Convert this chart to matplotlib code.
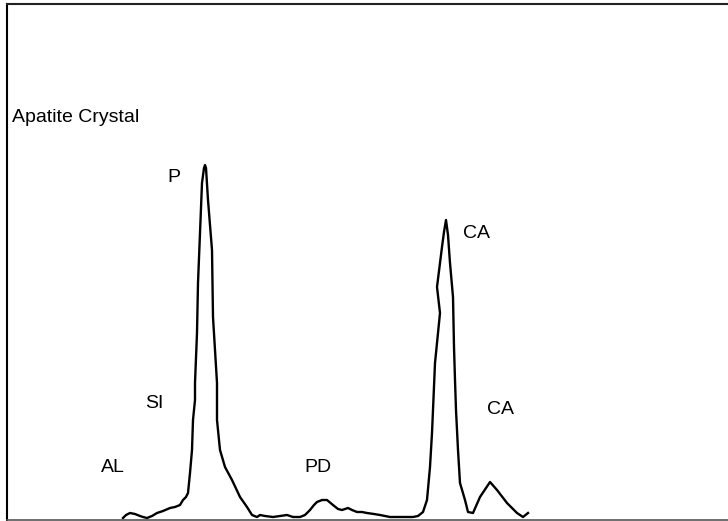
import matplotlib
matplotlib.use("Agg")
import matplotlib.pyplot as plt

# Spectrum trace (channel, counts)
channel = [123, 126, 130, 135, 140, 143, 147, 152, 157, 163, 170, 175, 180, 183, 186, 188,
           190, 192, 193, 195, 195, 197, 198, 200, 202, 204, 205, 206, 208, 210, 212, 213,
           215, 217, 217, 220, 225, 232, 240, 247, 252, 257, 260, 265, 273, 280, 287, 293,
           300, 305, 310, 314, 317, 322, 327, 333, 338, 342, 348, 352, 357, 362, 367, 374,
           380, 390, 400, 413, 418, 423, 427, 430, 432, 433, 435, 440, 437, 442, 444, 446,
           448, 450, 453, 454, 455, 456, 458, 460, 465, 468, 473, 480, 490, 497, 507, 517,
           523, 528]
pix_y = [518, 515, 513, 514, 516, 517, 518, 516, 513, 511, 508, 507, 505, 500, 497, 493,
         473, 450, 420, 400, 383, 333, 283, 233, 183, 168, 165, 168, 200, 225, 250, 317,
         350, 383, 420, 450, 467, 480, 497, 507, 515, 517, 515, 516, 517, 516, 515, 517,
         517, 515, 510, 505, 502, 500, 500, 505, 509, 510, 508, 510, 512, 512, 513, 514,
         515, 517, 517, 517, 516, 512, 500, 467, 433, 410, 363, 313, 287, 247, 232, 220,
         235, 263, 297, 347, 380, 410, 450, 483, 500, 512, 513, 497, 482, 490, 503, 513,
         517, 513]
H = 521
counts = [H - v for v in pix_y]

# Annotations (label, channel, counts)
labels = ["Apatite Crystal", "P", "CA", "SI", "CA", "AL", "PD"]
label_x = [12, 174, 477, 154, 500, 113, 318]
label_y = [H - 117, H - 178, H - 234, H - 404, H - 409, H - 467, H - 467]

plt.rcParams['font.family'] = ['Liberation Sans', 'DejaVu Sans']
fig = plt.figure(figsize=(7.28, 5.21), dpi=100)
ax = fig.add_axes([7 / 728, 1.5 / 521, 1 - 7 / 728, (517.5 - 1.5) / 521])
ax.set_xlim(7, 728)
ax.set_ylim(1.5, 517.5)

ax.plot(channel, counts, color='black', lw=1.7, solid_joinstyle='round')

for i, (t, x, y) in enumerate(zip(labels, label_x, label_y)):
    ha = 'left' if i == 0 else 'center'
    ax.text(x, y, t, ha=ha, va='center', fontsize=14, color='black')

ax.set_xticks([])
ax.set_yticks([])
ax.spines['right'].set_visible(False)
ax.spines['left'].set_linewidth(1.5)
ax.spines['top'].set_linewidth(1.5)
ax.spines['bottom'].set_linewidth(1.2)
ax.spines['bottom'].set_color('#555555')
ax.spines['top'].set_color('#222222')

fig.savefig("out.png", dpi=100)
